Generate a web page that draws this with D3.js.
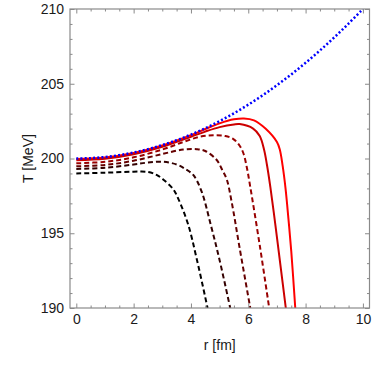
<!DOCTYPE html>
<html>
<head>
<meta charset="utf-8">
<script src="https://cdn.jsdelivr.net/npm/d3@7"></script>
<style>
  body { margin: 0; background: #fff; }
  text { font-family: "Liberation Sans", Arial, sans-serif; }
</style>
</head>
<body>
<div id="chart-area"></div>
<script>
// values, r in fm and T in MeV

// blue dotted reference curve
let blueR = [0, 0.5, 1, 1.5, 2, 2.5, 3, 3.5, 4, 4.5, 5, 5.5, 6, 6.5, 7, 7.5, 8, 8.5, 9, 9.5, 10]
let blueT = [200, 200.025, 200.1, 200.225, 200.4, 200.625, 200.9, 201.225, 201.6, 202.025, 202.5,
	203.025, 203.6, 204.225, 204.9, 205.625, 206.4, 207.225, 208.1, 209.025, 210]

// six red -> black curves, outermost first
let r1 = [0, 1, 2, 3, 4, 4.5, 5, 5.5, 5.85, 6.2, 6.6, 7.0, 7.1, 7.2, 7.3, 7.4, 7.5, 7.64]
let t1 = [199.97, 200.07, 200.37, 200.87, 201.56, 201.97, 202.35, 202.62, 202.68, 202.55, 202.0, 201.1, 200.6, 199.5, 198.0, 196.0, 193.8, 190]

let r2 = [0, 1, 2, 3, 4, 4.5, 5, 5.5, 5.7, 6.17, 6.4, 6.55, 6.65, 6.77, 6.95, 7.12, 7.31]
let t2 = [199.88, 199.98, 200.28, 200.78, 201.45, 201.8, 202.1, 202.28, 202.3, 202.0, 201.5, 200.6, 199.6, 198.1, 195.5, 192.9, 190]

let r3 = [0, 1, 2, 3, 3.73, 4.3, 4.78, 5.2, 5.48, 5.7, 5.83, 5.95, 6.07, 6.4, 6.73]
let t3 = [199.68, 199.78, 200.08, 200.6, 201.1, 201.45, 201.55, 201.5, 201.3, 200.85, 200.35, 199.4, 198.1, 194.2, 190]

let r4 = [0, 1, 2, 3, 3.73, 4.2, 4.5, 4.9, 5.1, 5.25, 5.42, 5.7, 6.07]
let t4 = [199.48, 199.57, 199.85, 200.3, 200.6, 200.62, 200.5, 199.9, 199.2, 198.6, 197.1, 194.0, 190]

let r5 = [0, 1, 2, 2.5, 3.03, 3.5, 3.8, 4.08, 4.37, 4.7, 5.0, 5.37]
let t5 = [199.3, 199.38, 199.6, 199.73, 199.78, 199.6, 199.3, 198.9, 197.8, 195.5, 193.2, 190]

let r6 = [0, 1, 2, 2.5, 2.8, 3.03, 3.38, 3.56, 3.9, 4.2, 4.58]
let t6 = [199.0, 199.05, 199.12, 199.1, 198.9, 198.6, 197.95, 197.3, 195.6, 193.3, 190]

let curveColors = ["#ff0000", "#cc0000", "#990000", "#660000", "#330000", "#000000"]
let curveDash = [null, null, "5,3", "5,3", "5,3", "5,3"]

let xMajor = [0, 2, 4, 6, 8, 10]
let yMajor = [190, 195, 200, 205, 210]

let curves = [[r1, t1], [r2, t2], [r3, t3], [r4, t4], [r5, t5], [r6, t6]]

const W = 374, H = 374
const mLeft = 70, mRight = 369.5, mTop = 9, mBottom = 308

let svg = d3.select("#chart-area").append("svg")
	.attr("width", W)
	.attr("height", H)

let x = d3.scaleLinear().domain([-0.22, 10.23]).range([mLeft, mRight])
let y = d3.scaleLinear().domain([190, 210]).range([mBottom, mTop])

svg.append("clipPath").attr("id", "clip")
	.append("rect")
	.attr("x", mLeft).attr("y", mTop)
	.attr("width", mRight - mLeft).attr("height", mBottom - mTop)

let line = d3.line()
	.x(d => x(d[0]))
	.y(d => y(d[1]))
	.curve(d3.curveCatmullRom.alpha(0.5))

let plot = svg.append("g").attr("clip-path", "url(#clip)")

curves.forEach(function(c, i) {
	let pts = c[0].map((r, j) => [r, c[1][j]])
	plot.append("path")
		.datum(pts)
		.attr("d", line)
		.attr("fill", "none")
		.attr("stroke", curveColors[i])
		.attr("stroke-width", 2)
		.attr("stroke-dasharray", curveDash[i])
})

plot.append("path")
	.datum(blueR.map((r, j) => [r, blueT[j]]))
	.attr("d", line)
	.attr("fill", "none")
	.attr("stroke", "#0000ff")
	.attr("stroke-width", 2.5)
	.attr("stroke-dasharray", "2,2.2")

// frame with inward ticks on all four sides
let frameColor = "#8a8a8a"
let xMinor = d3.range(0, 10.01, 0.5).filter(v => xMajor.indexOf(v) < 0)
let yMinor = d3.range(190, 210.01, 1).filter(v => yMajor.indexOf(v) < 0)

let axes = [
	{ axis: d3.axisBottom(x), pos: [0, mBottom], vals: [xMajor, xMinor], labels: true },
	{ axis: d3.axisTop(x), pos: [0, mTop], vals: [xMajor, xMinor], labels: false },
	{ axis: d3.axisLeft(y), pos: [mLeft, 0], vals: [yMajor, yMinor], labels: true },
	{ axis: d3.axisRight(y), pos: [mRight, 0], vals: [yMajor, yMinor], labels: false }
]

axes.forEach(function(a) {
	// minor ticks
	let gm = svg.append("g")
		.attr("transform", "translate(" + a.pos[0] + "," + a.pos[1] + ")")
		.call(a.axis.tickValues(a.vals[1]).tickSize(-2.5).tickFormat(""))
	gm.select(".domain").remove()
	gm.selectAll("line").attr("stroke", frameColor)

	// major ticks
	let g = svg.append("g")
		.attr("transform", "translate(" + a.pos[0] + "," + a.pos[1] + ")")
		.call(a.axis.tickValues(a.vals[0]).tickSize(-4.5).tickPadding(6)
			.tickFormat(a.labels ? d3.format("d") : ""))
	g.select(".domain").remove()
	g.selectAll("line").attr("stroke", frameColor)
	g.selectAll("text")
		.attr("fill", "#1a1a1a")
		.style("font-size", "14px")
})

svg.append("rect")
	.attr("x", mLeft).attr("y", mTop)
	.attr("width", mRight - mLeft).attr("height", mBottom - mTop)
	.attr("fill", "none")
	.attr("stroke", frameColor)
	.attr("stroke-width", 1.2)

svg.append("text")
	.attr("x", (mLeft + mRight) / 2)
	.attr("y", 350)
	.attr("text-anchor", "middle")
	.attr("fill", "#1a1a1a")
	.style("font-size", "14px")
	.text("r [fm]")

svg.append("text")
	.attr("transform", "translate(33," + ((mTop + mBottom) / 2) + ") rotate(-90)")
	.attr("text-anchor", "middle")
	.attr("fill", "#1a1a1a")
	.style("font-size", "14px")
	.text("T [MeV]")
</script>
</body>
</html>
